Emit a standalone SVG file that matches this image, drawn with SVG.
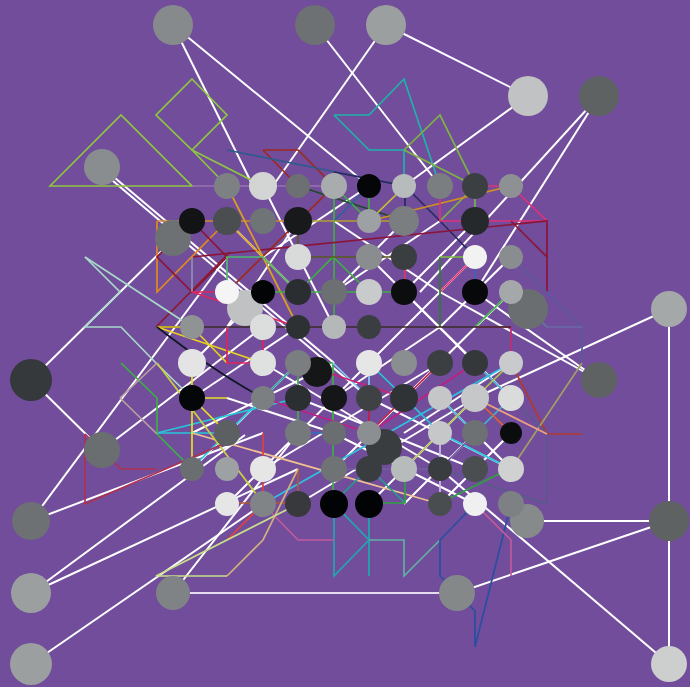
<svg xmlns="http://www.w3.org/2000/svg" width="690" height="687" viewBox="0 0 690 687">
<style>
.e{stroke:#fff;stroke-width:2;fill:none}
.p{fill:none;stroke-width:1.7;stroke-linejoin:miter}
</style>
<rect width="690" height="687" fill="#714d9c"/>
<g id="connectors">
<g class="e">
<line x1="173" y1="25" x2="369" y2="186"/>
<line x1="173" y1="25" x2="258" y2="196"/>
<line x1="315" y1="25" x2="440" y2="186"/>
<line x1="386" y1="25" x2="270" y2="190"/>
<line x1="386" y1="25" x2="528" y2="96"/>
<line x1="528" y1="96" x2="404" y2="186"/>
<line x1="599" y1="96" x2="420" y2="292"/>
<line x1="599" y1="96" x2="475" y2="292"/>
<line x1="102" y1="167" x2="334" y2="363"/>
<line x1="106" y1="175" x2="369" y2="398"/>
<line x1="31" y1="380" x2="192" y2="221"/>
<line x1="31" y1="380" x2="102" y2="450"/>
<line x1="31" y1="521" x2="227" y2="257"/>
<line x1="31" y1="521" x2="263" y2="433"/>
<line x1="102" y1="450" x2="263" y2="327"/>
<line x1="31" y1="593" x2="245" y2="435"/>
<line x1="31" y1="593" x2="298" y2="469"/>
<line x1="31" y1="664" x2="263" y2="504"/>
<line x1="173" y1="593" x2="298" y2="433"/>
<line x1="457" y1="593" x2="669" y2="521"/>
<line x1="527" y1="521" x2="669" y2="521"/>
<line x1="669" y1="521" x2="669" y2="664"/>
<line x1="669" y1="309" x2="669" y2="521"/>
<line x1="669" y1="309" x2="475" y2="398"/>
<line x1="440" y1="469" x2="669" y2="664"/>
<line x1="599" y1="380" x2="440" y2="292"/>
<line x1="599" y1="380" x2="475" y2="292"/>
<line x1="263" y1="186" x2="334" y2="327"/>
<line x1="298" y1="221" x2="227" y2="327"/>
<line x1="404" y1="221" x2="334" y2="292"/>
<line x1="475" y1="257" x2="369" y2="363"/>
<line x1="511" y1="292" x2="404" y2="398"/>
<line x1="440" y1="363" x2="334" y2="469"/>
<line x1="475" y1="398" x2="369" y2="504"/>
<line x1="263" y1="363" x2="440" y2="469"/>
<line x1="298" y1="398" x2="475" y2="469"/>
<line x1="333" y1="433" x2="475" y2="504"/>
<line x1="227" y1="398" x2="334" y2="433"/>
<line x1="192" y1="469" x2="298" y2="363"/>
<line x1="404" y1="292" x2="511" y2="398"/>
<line x1="369" y1="257" x2="475" y2="363"/>
<line x1="334" y1="398" x2="440" y2="327"/>
<line x1="511" y1="433" x2="440" y2="504"/>
<line x1="227" y1="504" x2="369" y2="363"/>
<line x1="263" y1="469" x2="440" y2="363"/>
<line x1="298" y1="504" x2="475" y2="398"/>
<line x1="334" y1="221" x2="440" y2="292"/>
<line x1="440" y1="221" x2="334" y2="292"/>
<line x1="263" y1="257" x2="369" y2="186"/>
<line x1="227" y1="221" x2="298" y2="292"/>
<line x1="475" y1="433" x2="404" y2="504"/>
<line x1="511" y1="469" x2="440" y2="398"/>
<line x1="404" y1="433" x2="511" y2="363"/>
<line x1="192" y1="398" x2="298" y2="327"/>
<line x1="192" y1="433" x2="334" y2="363"/>
<line x1="369" y1="398" x2="511" y2="469"/>
<line x1="192" y1="363" x2="263" y2="292"/>
<line x1="475" y1="221" x2="404" y2="292"/>
<line x1="511" y1="257" x2="440" y2="327"/>
</g>
<line x1="173" y1="593" x2="457" y2="593" stroke="#e6dced" stroke-width="2"/>
<g class="p">
<polygon points="50,186 121,115 192,186" stroke="#8dc63f"/>
<polygon points="192,79 227,115 192,150 156,115" stroke="#8dc63f"/>
<polyline points="227,186 192,150 263,186" stroke="#8dc63f"/>
<polyline points="334,115 369,115 404,79 440,186" stroke="#20b2aa"/>
<polyline points="334,115 369,150 404,150 404,186" stroke="#20b2aa"/>
<polyline points="404,150 440,115 475,186 475,221" stroke="#7cb342"/>
<polyline points="404,150 475,186 440,221" stroke="#7cb342"/>
<polyline points="263,150 298,150 334,186 227,292" stroke="#a0281e"/>
<polyline points="263,150 298,186" stroke="#a0281e"/>
<polyline points="227,150 405,186" stroke="#2f5b8c"/>
<polyline points="192,186 334,186" stroke="#9a70b0"/>
<polyline points="298,186 405,221" stroke="#1f4a2a"/>
<polyline points="334,186 334,327" stroke="#3cb043"/>
<polyline points="334,186 369,221 369,186" stroke="#3cb043"/>
<polyline points="369,186 334,221" stroke="#3060a0"/>
<polyline points="369,221 405,186" stroke="#d0c030"/>
<polyline points="334,172 405,186 405,221" stroke="#2a2a60"/>
<polyline points="405,186 440,221 475,257" stroke="#2a2a60"/>
<polyline points="369,221 511,186" stroke="#d09020"/>
<polyline points="440,186 440,221" stroke="#e0307a"/>
<polyline points="475,186 511,186 547,221 440,221" stroke="#e0307a"/>
<polyline points="192,257 547,221 547,292" stroke="#8b1538"/>
<polyline points="511,221 547,257" stroke="#8b1538"/>
<polyline points="157,221 298,221" stroke="#d08a30"/>
<polyline points="157,221 157,292 227,221" stroke="#e08a1e"/>
<polyline points="227,221 298,292" stroke="#d9a020"/>
<polyline points="227,186 263,257 298,327" stroke="#d9a020"/>
<polyline points="298,221 405,221" stroke="#b0a030"/>
<polygon points="157,257 192,221 227,257 192,292" stroke="#8b1538"/>
<polyline points="156,327 230,252" stroke="#8b1a30"/>
<polyline points="192,257 192,292" stroke="#9090b0"/>
<polyline points="227,292 227,257 263,257 298,292" stroke="#4cbc6c"/>
<polyline points="227,292 405,292" stroke="#3cb043"/>
<polyline points="298,292 333,257 369,292" stroke="#3cb043"/>
<polyline points="298,257 405,257" stroke="#5a5a20"/>
<polyline points="298,221 298,257" stroke="#5a5a20"/>
<polyline points="405,257 405,292" stroke="#e8336b"/>
<polyline points="440,292 475,257" stroke="#e8336b"/>
<polyline points="440,257 440,327" stroke="#2e7d32"/>
<polyline points="440,257 475,257" stroke="#7cc040"/>
<polyline points="475,257 475,292" stroke="#4060c0"/>
<polyline points="475,327 511,292 547,327" stroke="#3cb043"/>
<polyline points="475,327 511,327 511,363" stroke="#c03070"/>
<polyline points="157,327 511,327" stroke="#3a2a2a"/>
<polyline points="157,327 192,327 227,363" stroke="#e8d020"/>
<polyline points="157,327 263,363" stroke="#e8d020"/>
<path d="M157,327 Q215,372 263,398" stroke="#101828"/>
<polyline points="192,292 227,292" stroke="#e0245e"/>
<polyline points="192,292 298,327" stroke="#e0245e"/>
<polyline points="227,327 227,363 263,363 263,327" stroke="#e0245e"/>
<polyline points="85,257 120,292 85,327 121,327 156,363 192,398" stroke="#a8d8c8"/>
<polyline points="85,257 192,327" stroke="#a8d8c8"/>
<polyline points="511,257 582,327 582,363" stroke="#5a5aa0"/>
<polyline points="511,292 547,327 582,327" stroke="#6a6aa8"/>
<polyline points="511,363 547,434 582,434" stroke="#b03a2e"/>
<polyline points="582,363 511,469" stroke="#a0a060"/>
<polyline points="511,398 547,434 547,504 440,469" stroke="#5a5a8a"/>
<polyline points="298,363 333,363" stroke="#3cb043"/>
<polyline points="298,363 298,433" stroke="#3cb043"/>
<polyline points="333,363 333,504" stroke="#3cb043"/>
<polyline points="298,433 333,433" stroke="#3070c0"/>
<polyline points="333,363 369,398 369,363" stroke="#87cefa"/>
<polyline points="263,398 298,363" stroke="#20a0a0"/>
<polyline points="157,433 227,433" stroke="#26c6da"/>
<polyline points="157,433 298,398" stroke="#26c6da"/>
<polyline points="192,468 263,398" stroke="#26c6da"/>
<polyline points="263,504 511,363" stroke="#30c0e0"/>
<polyline points="369,363 405,398 440,433 511,469" stroke="#26c6da"/>
<polyline points="475,363 511,398 475,433 440,398" stroke="#40b0d0"/>
<polyline points="298,363 405,398" stroke="#d02070"/>
<polyline points="263,398 369,433 475,363" stroke="#c02080"/>
<polyline points="369,433 440,363" stroke="#c02040"/>
<polyline points="369,398 369,433" stroke="#c02040"/>
<polyline points="192,433 440,504" stroke="#f0c090"/>
<polyline points="475,398 511,433" stroke="#e06030"/>
<polyline points="475,398 547,434" stroke="#f0a080"/>
<polyline points="369,468 405,503" stroke="#1fa090"/>
<polyline points="369,468 333,503" stroke="#1fa090"/>
<polyline points="369,503 405,503 405,468" stroke="#30a040"/>
<polyline points="440,433 440,503" stroke="#d0c0e0"/>
<polyline points="440,503 511,468" stroke="#30a040"/>
<polyline points="404,469 475,398 511,363" stroke="#b0c050"/>
<polyline points="334,469 440,469 475,433" stroke="#7060a0"/>
<polyline points="227,503 298,503 298,468" stroke="#b05a30"/>
<polyline points="192,363 192,468" stroke="#e8e020"/>
<polyline points="192,398 227,398" stroke="#e8e020"/>
<polyline points="192,398 227,433" stroke="#e8e020"/>
<polyline points="157,363 263,503" stroke="#c8d040"/>
<polyline points="121,363 157,398 157,434 192,469" stroke="#3cb043"/>
<polyline points="120,398 157,363" stroke="#b8a0a0"/>
<polyline points="120,398 157,434" stroke="#b8a0a0"/>
<polyline points="85,434 85,504 230,441" stroke="#b03050"/>
<polyline points="85,434 121,469 157,469" stroke="#b03050"/>
<polyline points="263,433 263,504 227,540" stroke="#e04040"/>
<polyline points="298,469 263,540 227,576" stroke="#d0b080"/>
<polyline points="334,504 334,576 369,540 334,504" stroke="#20a8b0"/>
<polyline points="369,504 369,576" stroke="#20a8b0"/>
<polyline points="369,540 404,540 404,576 440,540" stroke="#60b0a0"/>
<polyline points="511,504 475,647 475,611 440,576 440,540 475,504" stroke="#2a4fa0"/>
<polyline points="263,504 298,540 334,540" stroke="#c05a9a"/>
<polyline points="475,504 511,540 511,576" stroke="#c05a9a"/>
<polyline points="227,576 156,576 298,504" stroke="#c8e08a"/>
</g>
</g>
<g id="n_o1"><circle cx="173" cy="25" r="20" fill="#878a8c"/></g>
<g id="n_o2"><circle cx="315" cy="25" r="20" fill="#6d7173"/></g>
<g id="n_o3"><circle cx="386" cy="25" r="20" fill="#9c9fa0"/></g>
<g id="n_o4"><circle cx="528" cy="96" r="20" fill="#c0c2c4"/></g>
<g id="n_o5"><circle cx="599" cy="96" r="20" fill="#5e6263"/></g>
<g id="n_o6"><circle cx="102" cy="167" r="18" fill="#8a8d8f"/></g>
<g id="n_o7"><circle cx="173" cy="238" r="18" fill="#6d7173"/></g>
<g id="n_o8"><circle cx="31" cy="380" r="21" fill="#35393b"/></g>
<g id="n_o9"><circle cx="669" cy="309" r="18" fill="#a5a8a9"/></g>
<g id="n_o10"><circle cx="599" cy="380" r="18" fill="#5e6263"/></g>
<g id="n_o11"><circle cx="102" cy="450" r="18" fill="#6a6e70"/></g>
<g id="n_o12"><circle cx="31" cy="521" r="19" fill="#6d7173"/></g>
<g id="n_o13"><circle cx="31" cy="593" r="20" fill="#9c9fa0"/></g>
<g id="n_o14"><circle cx="173" cy="593" r="17" fill="#7f8385"/></g>
<g id="n_o15"><circle cx="457" cy="593" r="18" fill="#858889"/></g>
<g id="n_o16"><circle cx="669" cy="521" r="20" fill="#5e6263"/></g>
<g id="n_o17"><circle cx="669" cy="664" r="18" fill="#cdcfcf"/></g>
<g id="n_o18"><circle cx="31" cy="664" r="21" fill="#9c9fa0"/></g>
<g id="n_o19"><circle cx="528" cy="309" r="20" fill="#6a6e70"/></g>
<g id="n_o20"><circle cx="527" cy="521" r="17" fill="#868a8b"/></g>
<g id="n_o21"><circle cx="245" cy="308" r="18" fill="#bfc1c2"/></g>
<g id="n_o22"><circle cx="317" cy="372" r="15" fill="#141618"/></g>
<g id="n_o23"><circle cx="384" cy="447" r="18" fill="#3a3d40"/></g>
<g id="n_r1a"><circle cx="227" cy="186" r="13" fill="#7d8183"/></g>
<g id="n_r1b"><circle cx="263" cy="186" r="14" fill="#d3d5d5"/></g>
<g id="n_r1c"><circle cx="298" cy="186" r="12" fill="#6c7072"/></g>
<g id="n_r1d"><circle cx="334" cy="186" r="13" fill="#a9acad"/></g>
<g id="n_r1e"><circle cx="369" cy="186" r="12" fill="#050608"/></g>
<g id="n_r1f"><circle cx="404" cy="186" r="12" fill="#b8bbbc"/></g>
<g id="n_r1g"><circle cx="440" cy="186" r="13" fill="#7a7e80"/></g>
<g id="n_r1h"><circle cx="475" cy="186" r="13" fill="#3c3f42"/></g>
<g id="n_r1i"><circle cx="511" cy="186" r="12" fill="#8e9193"/></g>
<g id="n_r2a"><circle cx="192" cy="221" r="13" fill="#111315"/></g>
<g id="n_r2b"><circle cx="227" cy="221" r="14" fill="#4a4e51"/></g>
<g id="n_r2c"><circle cx="263" cy="221" r="13" fill="#6f7476"/></g>
<g id="n_r2d"><circle cx="298" cy="221" r="14" fill="#17191b"/></g>
<g id="n_r2e"><circle cx="369" cy="221" r="12" fill="#9ea1a3"/></g>
<g id="n_r2f"><circle cx="404" cy="221" r="15" fill="#7a7e80"/></g>
<g id="n_r2g"><circle cx="475" cy="221" r="14" fill="#26292b"/></g>
<g id="n_r3a"><circle cx="298" cy="257" r="13" fill="#d9dbdb"/></g>
<g id="n_r3b"><circle cx="369" cy="257" r="13" fill="#8a8d8f"/></g>
<g id="n_r3c"><circle cx="404" cy="257" r="13" fill="#3b3e41"/></g>
<g id="n_r3d"><circle cx="475" cy="257" r="12" fill="#f2f2f2"/></g>
<g id="n_r3e"><circle cx="511" cy="257" r="12" fill="#8a8d8f"/></g>
<g id="n_r4a"><circle cx="227" cy="292" r="12" fill="#f5f5f5"/></g>
<g id="n_r4b"><circle cx="263" cy="292" r="12" fill="#030405"/></g>
<g id="n_r4c"><circle cx="298" cy="292" r="13" fill="#2b2e30"/></g>
<g id="n_r4d"><circle cx="334" cy="292" r="13" fill="#6c7072"/></g>
<g id="n_r4e"><circle cx="369" cy="292" r="13" fill="#c8cacb"/></g>
<g id="n_r4f"><circle cx="404" cy="292" r="13" fill="#0c0d0f"/></g>
<g id="n_r4g"><circle cx="475" cy="292" r="13" fill="#07080a"/></g>
<g id="n_r4h"><circle cx="511" cy="292" r="12" fill="#a5a8a9"/></g>
<g id="n_r5a"><circle cx="192" cy="327" r="12" fill="#909394"/></g>
<g id="n_r5b"><circle cx="263" cy="327" r="13" fill="#dcdddd"/></g>
<g id="n_r5c"><circle cx="298" cy="327" r="12" fill="#2e3133"/></g>
<g id="n_r5d"><circle cx="334" cy="327" r="12" fill="#b5b8b9"/></g>
<g id="n_r5e"><circle cx="369" cy="327" r="12" fill="#3b3e41"/></g>
<g id="n_r6a"><circle cx="192" cy="363" r="14" fill="#e4e4e4"/></g>
<g id="n_r6b"><circle cx="263" cy="363" r="13" fill="#dfe0e0"/></g>
<g id="n_r6c"><circle cx="298" cy="363" r="13" fill="#7a7e80"/></g>
<g id="n_r6d"><circle cx="369" cy="363" r="13" fill="#e6e6e6"/></g>
<g id="n_r6e"><circle cx="404" cy="363" r="13" fill="#8b8e90"/></g>
<g id="n_r6f"><circle cx="440" cy="363" r="13" fill="#3c3f42"/></g>
<g id="n_r6g"><circle cx="475" cy="363" r="13" fill="#35383b"/></g>
<g id="n_r6h"><circle cx="511" cy="363" r="12" fill="#c8cacb"/></g>
<g id="n_r7a"><circle cx="192" cy="398" r="13" fill="#050607"/></g>
<g id="n_r7b"><circle cx="263" cy="398" r="12" fill="#7b7f81"/></g>
<g id="n_r7c"><circle cx="298" cy="398" r="13" fill="#2c2f31"/></g>
<g id="n_r7d"><circle cx="334" cy="398" r="13" fill="#141618"/></g>
<g id="n_r7e"><circle cx="369" cy="398" r="13" fill="#3f4245"/></g>
<g id="n_r7f"><circle cx="404" cy="398" r="14" fill="#303335"/></g>
<g id="n_r7g"><circle cx="440" cy="398" r="12" fill="#c4c6c7"/></g>
<g id="n_r7h"><circle cx="475" cy="398" r="14" fill="#c5c7c8"/></g>
<g id="n_r7i"><circle cx="511" cy="398" r="13" fill="#dadbdb"/></g>
<g id="n_r8a"><circle cx="227" cy="433" r="13" fill="#5c6062"/></g>
<g id="n_r8b"><circle cx="298" cy="433" r="13" fill="#75797b"/></g>
<g id="n_r8c"><circle cx="334" cy="433" r="12" fill="#6a6e70"/></g>
<g id="n_r8d"><circle cx="369" cy="433" r="12" fill="#8c8f91"/></g>
<g id="n_r8e"><circle cx="440" cy="433" r="12" fill="#c5c7c8"/></g>
<g id="n_r8f"><circle cx="475" cy="433" r="13" fill="#6d7173"/></g>
<g id="n_r8g"><circle cx="511" cy="433" r="11" fill="#0b0c0e"/></g>
<g id="n_r9a"><circle cx="192" cy="469" r="12" fill="#6a6e70"/></g>
<g id="n_r9b"><circle cx="227" cy="469" r="12" fill="#9ea1a3"/></g>
<g id="n_r9c"><circle cx="263" cy="469" r="13" fill="#e6e6e6"/></g>
<g id="n_r9d"><circle cx="334" cy="469" r="13" fill="#6f7375"/></g>
<g id="n_r9e"><circle cx="369" cy="469" r="13" fill="#3a3d40"/></g>
<g id="n_r9f"><circle cx="404" cy="469" r="13" fill="#b8bbbc"/></g>
<g id="n_r9g"><circle cx="440" cy="469" r="12" fill="#3a3d40"/></g>
<g id="n_r9h"><circle cx="475" cy="469" r="13" fill="#4b4e51"/></g>
<g id="n_r9i"><circle cx="511" cy="469" r="13" fill="#d0d2d2"/></g>
<g id="n_r10a"><circle cx="227" cy="504" r="12" fill="#e6e6e6"/></g>
<g id="n_r10b"><circle cx="263" cy="504" r="13" fill="#808486"/></g>
<g id="n_r10c"><circle cx="298" cy="504" r="13" fill="#37393c"/></g>
<g id="n_r10d"><circle cx="334" cy="504" r="14" fill="#020304"/></g>
<g id="n_r10e"><circle cx="369" cy="504" r="14" fill="#020304"/></g>
<g id="n_r10f"><circle cx="440" cy="504" r="12" fill="#4a4d50"/></g>
<g id="n_r10g"><circle cx="475" cy="504" r="12" fill="#f0f0f0"/></g>
<g id="n_r10h"><circle cx="511" cy="504" r="13" fill="#7d8183"/></g>
</svg>
